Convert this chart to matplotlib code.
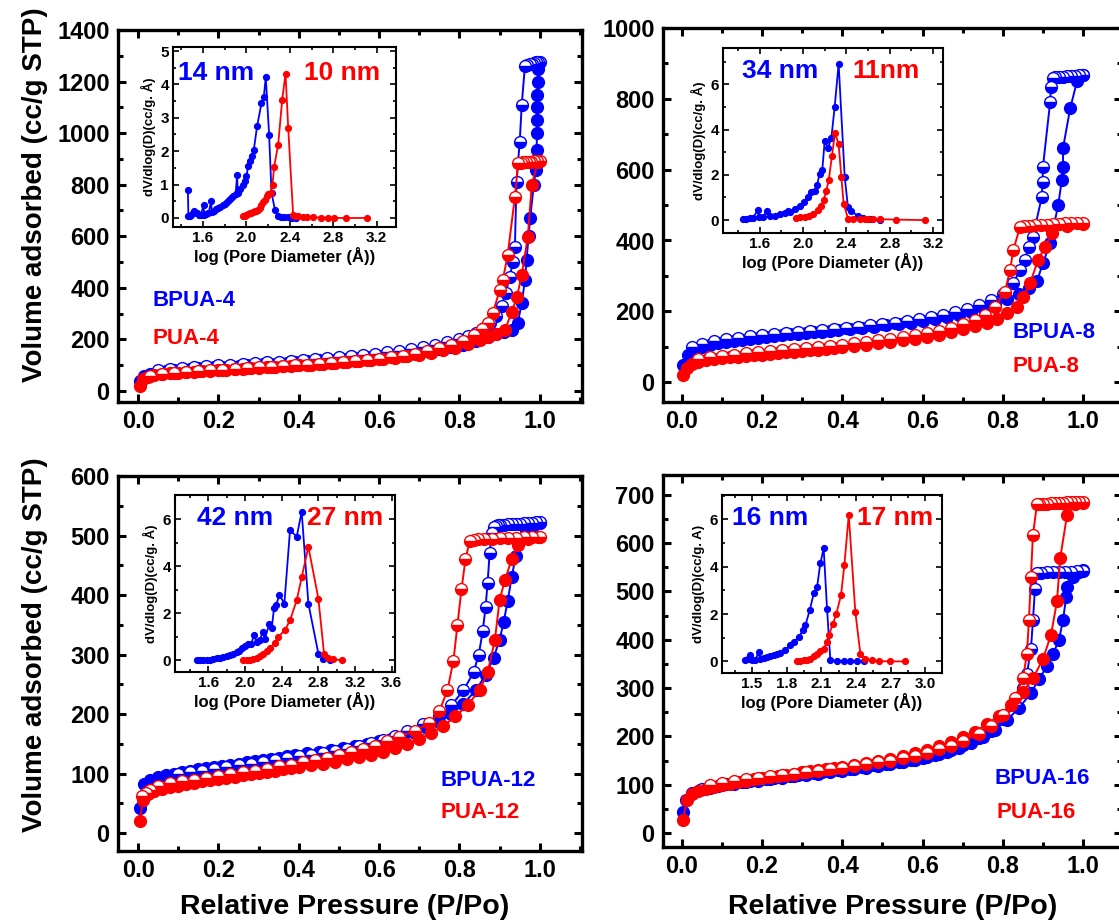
import matplotlib
matplotlib.use('Agg')
import matplotlib.pyplot as plt
from matplotlib.ticker import MultipleLocator, FormatStrFormatter

plt.rcParams['font.family'] = ['Liberation Sans', 'DejaVu Sans']
plt.rcParams['font.weight'] = 'bold'
plt.rcParams['axes.labelweight'] = 'bold'

BLUE = '#0000ff'
RED = '#ff0000'

# ---------------- Panel A: BPUA-4 / PUA-4 ----------------
A_blue_ads_P = [0.004, 0.015, 0.03, 0.05, 0.07, 0.09, 0.11, 0.13, 0.15, 0.17,
                0.19, 0.21, 0.23, 0.25, 0.27, 0.29, 0.31, 0.33, 0.35, 0.37,
                0.39, 0.42, 0.45, 0.48, 0.51, 0.54, 0.57, 0.60, 0.63, 0.66,
                0.69, 0.72, 0.75, 0.78, 0.81, 0.84, 0.87, 0.89, 0.91, 0.93,
                0.945, 0.955, 0.963, 0.967, 0.972, 0.976, 0.985, 0.99, 0.992, 0.993,
                0.993, 0.994, 0.994, 0.995, 0.996]
A_blue_ads_V = [40, 58, 66, 72, 76, 80, 83, 86, 88, 90,
                92, 94, 96, 98, 100, 102, 104, 106, 108, 110,
                112, 115, 118, 121, 124, 127, 131, 135, 139, 144,
                149, 155, 162, 170, 180, 192, 208, 220, 230, 238,
                262, 341, 431, 508, 600, 670, 800, 858, 935, 1001,
                1051, 1103, 1148, 1200, 1250]
A_blue_des_P = [1.0, 0.995, 0.99, 0.985, 0.98, 0.975, 0.969, 0.963, 0.955, 0.95,
                0.942, 0.938, 0.933, 0.925, 0.915, 0.905, 0.89, 0.875, 0.86, 0.84,
                0.82, 0.80, 0.77, 0.74, 0.71, 0.68, 0.65, 0.62, 0.59, 0.56,
                0.53, 0.50, 0.47, 0.44, 0.41, 0.38, 0.35, 0.32, 0.29, 0.26,
                0.23, 0.20, 0.17, 0.14, 0.11, 0.08, 0.05]
A_blue_des_V = [1275, 1276, 1274, 1272, 1270, 1268, 1266, 1262, 1110, 967,
                812, 560, 502, 440, 380, 330, 290, 262, 243, 225,
                212, 202, 190, 180, 171, 163, 156, 150, 145, 140,
                135, 131, 127, 123, 120, 117, 114, 111, 108, 105,
                102, 99, 96, 93, 89, 85, 80]
A_red_ads_P = [0.004, 0.012, 0.025, 0.04, 0.06, 0.08, 0.10, 0.12, 0.14, 0.16,
               0.18, 0.20, 0.22, 0.24, 0.26, 0.28, 0.30, 0.32, 0.34, 0.36,
               0.38, 0.40, 0.43, 0.46, 0.49, 0.52, 0.55, 0.58, 0.61, 0.64,
               0.67, 0.70, 0.73, 0.76, 0.79, 0.82, 0.85, 0.87, 0.89, 0.913,
               0.93, 0.943, 0.955, 0.97, 0.98, 0.995]
A_red_ads_V = [20, 45, 54, 60, 64, 68, 71, 73, 75, 77,
               79, 81, 83, 85, 86, 88, 90, 92, 93, 95,
               97, 99, 102, 105, 108, 111, 115, 119, 123, 128,
               134, 140, 148, 157, 168, 182, 198, 210, 220, 235,
               306, 365, 450, 597, 799, 888]
A_red_des_P = [1.0, 0.993, 0.986, 0.979, 0.972, 0.965, 0.958, 0.952, 0.946, 0.938,
               0.92, 0.908, 0.9, 0.883, 0.87, 0.855, 0.835, 0.81, 0.78, 0.75,
               0.72, 0.69, 0.66, 0.63, 0.60, 0.57, 0.54, 0.51, 0.48, 0.45,
               0.42, 0.39, 0.36, 0.33, 0.30, 0.27, 0.24, 0.21, 0.18, 0.15,
               0.12, 0.09, 0.06, 0.03]
A_red_des_V = [890, 891, 890, 889, 889, 888, 887, 886, 884, 753,
               528, 430, 390, 302, 265, 240, 215, 195, 178, 165,
               154, 145, 137, 131, 125, 120, 116, 112, 108, 105,
               102, 99, 96, 93, 91, 88, 86, 83, 80, 77,
               74, 70, 66, 58]

# ---------------- Panel B: BPUA-8 / PUA-8 ----------------
B_blue_ads_P = [0.004, 0.015, 0.03, 0.05, 0.07, 0.09, 0.11, 0.13, 0.15, 0.17,
                0.19, 0.21, 0.23, 0.25, 0.27, 0.29, 0.31, 0.33, 0.35, 0.37,
                0.39, 0.42, 0.45, 0.48, 0.51, 0.54, 0.57, 0.60, 0.63, 0.66,
                0.69, 0.72, 0.75, 0.78, 0.81, 0.84, 0.865, 0.885, 0.90, 0.918,
                0.938, 0.947, 0.95, 0.95, 0.968, 0.985, 1.0]
B_blue_ads_V = [48, 78, 90, 100, 106, 110, 114, 117, 120, 123,
                126, 128, 130, 133, 135, 137, 139, 141, 143, 145,
                147, 150, 153, 157, 160, 164, 168, 172, 177, 183,
                190, 198, 208, 220, 234, 250, 265, 285, 336, 393,
                500, 571, 608, 661, 774, 850, 867]
B_blue_des_P = [1.0, 0.99, 0.98, 0.97, 0.96, 0.95, 0.94, 0.93, 0.925, 0.92,
                0.918, 0.90, 0.899, 0.897, 0.875, 0.864, 0.855, 0.843, 0.826, 0.80,
                0.77, 0.74, 0.71, 0.68, 0.65, 0.62, 0.59, 0.56, 0.53, 0.50,
                0.47, 0.44, 0.41, 0.38, 0.35, 0.32, 0.29, 0.26, 0.23, 0.20,
                0.17, 0.14, 0.11, 0.08, 0.05, 0.025]
B_blue_des_V = [866, 866, 865, 865, 864, 863, 862, 861, 860, 834,
                792, 608, 566, 523, 410, 382, 345, 316, 280, 250,
                232, 218, 207, 198, 190, 184, 178, 173, 168, 164,
                160, 157, 154, 150, 147, 144, 141, 138, 135, 132,
                129, 125, 121, 115, 108, 98]
B_red_ads_P = [0.004, 0.012, 0.025, 0.04, 0.06, 0.08, 0.10, 0.12, 0.14, 0.16,
               0.18, 0.20, 0.22, 0.24, 0.26, 0.28, 0.30, 0.32, 0.34, 0.36,
               0.38, 0.40, 0.43, 0.46, 0.49, 0.52, 0.55, 0.58, 0.61, 0.64,
               0.67, 0.70, 0.73, 0.76, 0.785, 0.81, 0.835, 0.85, 0.868, 0.888,
               0.905, 0.922, 0.96, 1.0]
B_red_ads_V = [20, 40, 52, 58, 62, 65, 68, 70, 72, 74,
               76, 78, 80, 82, 84, 86, 88, 90, 92, 94,
               96, 98, 102, 106, 110, 114, 118, 123, 128, 134,
               141, 149, 158, 168, 178, 195, 213, 241, 280, 345,
               382, 421, 442, 447]
B_red_des_P = [1.0, 0.985, 0.97, 0.955, 0.94, 0.925, 0.91, 0.895, 0.88, 0.865,
               0.853, 0.843, 0.826, 0.818, 0.805, 0.78, 0.755, 0.73, 0.70, 0.67,
               0.64, 0.61, 0.58, 0.55, 0.52, 0.49, 0.46, 0.43, 0.40, 0.37,
               0.34, 0.31, 0.28, 0.25, 0.22, 0.19, 0.16, 0.13, 0.10, 0.07,
               0.04]
B_red_des_V = [450, 450, 449, 448, 447, 446, 445, 444, 443, 442,
               441, 439, 373, 316, 255, 213, 189, 175, 163, 153,
               145, 138, 132, 127, 122, 118, 114, 110, 106, 102,
               99, 96, 93, 90, 87, 84, 81, 78, 75, 71,
               66]

# ---------------- Panel C: BPUA-12 / PUA-12 ----------------
C_blue_ads_P = [0.004, 0.015, 0.03, 0.05, 0.07, 0.09, 0.11, 0.13, 0.15, 0.17,
                0.19, 0.21, 0.23, 0.25, 0.27, 0.29, 0.31, 0.33, 0.35, 0.37,
                0.39, 0.42, 0.45, 0.48, 0.51, 0.54, 0.57, 0.60, 0.63, 0.66,
                0.69, 0.72, 0.75, 0.78, 0.81, 0.84, 0.865, 0.885, 0.90, 0.91,
                0.92, 0.93, 0.94, 0.95, 0.965, 0.985, 1.0]
C_blue_ads_V = [42, 82, 90, 95, 98, 100, 103, 105, 107, 109,
                111, 113, 115, 117, 119, 121, 123, 125, 127, 129,
                131, 134, 137, 140, 143, 146, 150, 154, 158, 163,
                169, 177, 187, 200, 217, 240, 265, 295, 325, 355,
                390, 430, 465, 492, 510, 518, 521]
C_blue_des_P = [1.0, 0.99, 0.98, 0.97, 0.96, 0.95, 0.94, 0.93, 0.92, 0.91,
                0.90, 0.895, 0.89, 0.885, 0.88, 0.875, 0.87, 0.865, 0.858, 0.848,
                0.835, 0.81, 0.78, 0.75, 0.71, 0.67, 0.64, 0.61, 0.58, 0.55,
                0.52, 0.49, 0.46, 0.43, 0.40, 0.37, 0.34, 0.31, 0.28, 0.25,
                0.22, 0.19, 0.16, 0.13, 0.10]
C_blue_des_V = [522, 522, 521, 521, 521, 520, 520, 519, 519, 518,
                518, 517, 516, 514, 505, 470, 420, 380, 340, 300,
                270, 240, 215, 197, 183, 172, 164, 157, 151, 146,
                142, 138, 135, 132, 129, 126, 123, 120, 117, 114,
                111, 108, 105, 102, 99]
C_red_ads_P = [0.004, 0.012, 0.025, 0.04, 0.06, 0.08, 0.10, 0.12, 0.14, 0.16,
               0.18, 0.20, 0.22, 0.24, 0.26, 0.28, 0.30, 0.32, 0.34, 0.36,
               0.38, 0.40, 0.43, 0.46, 0.49, 0.52, 0.55, 0.58, 0.61, 0.64,
               0.67, 0.70, 0.73, 0.76, 0.79, 0.82, 0.85, 0.87, 0.888, 0.90,
               0.913, 0.93, 0.945, 0.97, 0.995]
C_red_ads_V = [20, 55, 65, 70, 74, 77, 80, 83, 85, 87,
               89, 91, 93, 95, 97, 99, 101, 103, 105, 107,
               109, 111, 114, 117, 120, 124, 128, 132, 137, 143,
               150, 158, 168, 180, 196, 215, 240, 270, 324, 392,
               425, 460, 484, 494, 497]
C_red_des_P = [1.0, 0.98, 0.96, 0.94, 0.92, 0.90, 0.88, 0.86, 0.845, 0.835,
               0.825, 0.815, 0.805, 0.795, 0.785, 0.77, 0.75, 0.725, 0.69, 0.65,
               0.62, 0.59, 0.56, 0.53, 0.50, 0.47, 0.44, 0.41, 0.38, 0.35,
               0.32, 0.29, 0.26, 0.23, 0.20, 0.17, 0.14, 0.11, 0.08, 0.05,
               0.03, 0.02, 0.01]
C_red_des_V = [497, 497, 497, 496, 496, 496, 495, 495, 494, 493,
               490, 460, 410, 350, 290, 240, 205, 185, 172, 162,
               154, 147, 141, 136, 131, 127, 123, 119, 115, 112,
               108, 105, 102, 99, 96, 93, 90, 87, 84, 79,
               73, 68, 62]

# ---------------- Panel D: BPUA-16 / PUA-16 ----------------
D_blue_ads_P = [0.003, 0.01, 0.025, 0.045, 0.07, 0.09, 0.11, 0.13, 0.15, 0.17,
                0.19, 0.21, 0.23, 0.25, 0.27, 0.29, 0.31, 0.33, 0.35, 0.37,
                0.39, 0.42, 0.45, 0.48, 0.51, 0.54, 0.57, 0.60, 0.63, 0.66,
                0.69, 0.72, 0.75, 0.78, 0.81, 0.84, 0.87, 0.89, 0.91, 0.925,
                0.94, 0.95, 0.958, 0.96, 0.975, 0.99, 1.0]
D_blue_ads_V = [43, 68, 82, 89, 94, 98, 101, 104, 106, 108,
                110, 112, 114, 116, 118, 120, 122, 124, 126, 128,
                130, 133, 136, 140, 143, 147, 151, 156, 162, 168,
                176, 186, 198, 214, 234, 258, 290, 318, 345, 370,
                400, 441, 489, 509, 530, 540, 545]
D_blue_des_P = [1.0, 0.985, 0.97, 0.955, 0.94, 0.925, 0.91, 0.895, 0.885, 0.88,
                0.875, 0.87, 0.86, 0.85, 0.83, 0.80, 0.77, 0.74, 0.70, 0.67,
                0.64, 0.61, 0.58, 0.55, 0.52, 0.49, 0.46, 0.43, 0.40, 0.37,
                0.34, 0.31, 0.28, 0.25, 0.22, 0.19, 0.16, 0.13, 0.10, 0.07,
                0.05]
D_blue_des_V = [542, 542, 541, 541, 540, 540, 540, 539, 538, 505,
                440, 380, 330, 300, 265, 235, 212, 196, 182, 172,
                164, 158, 152, 147, 143, 139, 135, 132, 129, 126,
                123, 120, 117, 114, 111, 108, 105, 102, 99, 95,
                92]
D_red_ads_P = [0.003, 0.012, 0.025, 0.04, 0.06, 0.08, 0.10, 0.12, 0.14, 0.16,
               0.18, 0.20, 0.22, 0.24, 0.26, 0.28, 0.30, 0.32, 0.34, 0.36,
               0.38, 0.40, 0.43, 0.46, 0.49, 0.52, 0.55, 0.58, 0.61, 0.64,
               0.67, 0.70, 0.73, 0.76, 0.79, 0.82, 0.85, 0.875, 0.90, 0.92,
               0.935, 0.943, 0.96, 0.98, 1.0]
D_red_ads_V = [27, 68, 80, 86, 91, 95, 99, 102, 105, 108,
               111, 113, 116, 118, 121, 123, 126, 128, 131, 133,
               135, 137, 141, 145, 149, 154, 159, 165, 172, 180,
               188, 198, 210, 225, 243, 265, 292, 320, 360, 410,
               480, 569, 658, 680, 683]
D_red_des_P = [1.0, 0.99, 0.98, 0.97, 0.96, 0.95, 0.94, 0.93, 0.92, 0.91,
               0.90, 0.89, 0.885, 0.875, 0.87, 0.865, 0.86, 0.85, 0.83, 0.80,
               0.77, 0.74, 0.70, 0.67, 0.64, 0.61, 0.58, 0.55, 0.52, 0.49,
               0.46, 0.43, 0.40, 0.37, 0.34, 0.31, 0.28, 0.25, 0.22, 0.19,
               0.16, 0.13, 0.10, 0.07]
D_red_des_V = [686, 686, 686, 685, 685, 684, 684, 683, 683, 682,
               682, 681, 680, 617, 530, 440, 370, 320, 280, 245,
               222, 205, 190, 181, 173, 166, 160, 155, 150, 146,
               142, 138, 135, 132, 129, 126, 123, 120, 117, 114,
               111, 108, 104, 100]

# ---------------- Insets: pore size distributions ----------------
A_psd_blue_x = [1.46, 1.465, 1.48, 1.50, 1.52, 1.54, 1.56, 1.58, 1.605, 1.61,
                1.63, 1.65, 1.675, 1.68, 1.70, 1.72, 1.74, 1.76, 1.78, 1.80,
                1.82, 1.84, 1.86, 1.88, 1.90, 1.914, 1.92, 1.94, 1.97, 1.99,
                2.0, 2.015, 2.03, 2.05, 2.068, 2.098, 2.138, 2.16, 2.178, 2.209,
                2.231, 2.262, 2.29, 2.32, 2.35, 2.38, 2.42, 2.46]
A_psd_blue_y = [0.85, 0.05, 0.06, 0.12, 0.20, 0.15, 0.10, 0.10, 0.38, 0.10,
                0.12, 0.14, 0.50, 0.18, 0.22, 0.26, 0.30, 0.34, 0.38, 0.43,
                0.48, 0.54, 0.60, 0.66, 0.72, 1.28, 0.75, 0.88, 1.00, 1.12,
                1.25, 1.55, 1.70, 1.85, 2.05, 2.75, 3.43, 3.63, 4.22, 2.48,
                0.75, 0.25, 0.05, 0.03, 0.02, 0.02, 0.01, 0.0]
A_psd_red_x = [1.969, 1.985, 2.0, 2.015, 2.03, 2.046, 2.062, 2.077, 2.092, 2.108,
               2.123, 2.138, 2.154, 2.169, 2.185, 2.2, 2.222, 2.24, 2.255, 2.292,
               2.329, 2.36, 2.385, 2.43, 2.45, 2.477, 2.517, 2.56, 2.615, 2.69,
               2.75, 2.81, 2.92, 3.11]
A_psd_red_y = [0.05, 0.07, 0.1, 0.12, 0.14, 0.16, 0.18, 0.2, 0.22, 0.25,
               0.3, 0.38, 0.47, 0.55, 0.65, 0.72, 0.75, 1.0, 1.54, 2.19,
               3.53, 4.32, 2.68, 0.1, 0.06, 0.05, 0.04, 0.03, 0.02, 0.01,
               0.01, 0.0, 0.0, 0.0]

B_psd_blue_x = [1.446, 1.477, 1.508, 1.538, 1.585, 1.594, 1.631, 1.668, 1.692, 1.738,
                1.785, 1.83, 1.862, 1.877, 1.923, 1.969, 2.006, 2.046, 2.077, 2.108,
                2.129, 2.154, 2.178, 2.2, 2.231, 2.262, 2.292, 2.329, 2.385, 2.415,
                2.446, 2.508, 2.554, 2.615, 2.708]
B_psd_blue_y = [0.06, 0.07, 0.09, 0.10, 0.45, 0.12, 0.13, 0.40, 0.16, 0.20,
                0.25, 0.31, 0.38, 0.36, 0.48, 0.63, 0.78, 1.00, 1.23, 1.30,
                1.53, 2.05, 2.20, 3.48, 3.18, 3.63, 4.98, 6.90, 1.90, 0.58,
                0.40, 0.18, 0.10, 0.03, 0.0]
B_psd_red_x = [1.938, 1.975, 2.015, 2.055, 2.092, 2.138, 2.169, 2.191, 2.215, 2.237,
               2.268, 2.295, 2.329, 2.354, 2.375, 2.415, 2.462, 2.523, 2.569, 2.6,
               2.646, 2.708, 2.862, 3.123]
B_psd_red_y = [0.10, 0.12, 0.15, 0.18, 0.25, 0.43, 0.63, 0.88, 1.30, 1.75,
               2.85, 3.85, 3.36, 1.90, 0.73, 0.07, 0.06, 0.06, 0.05, 0.05,
               0.04, 0.04, 0.02, 0.0]

C_psd_blue_x = [1.473, 1.509, 1.545, 1.582, 1.618, 1.655, 1.691, 1.727, 1.764, 1.8,
                1.836, 1.873, 1.909, 1.938, 1.967, 2.0, 2.036, 2.065, 2.098, 2.127,
                2.164, 2.193, 2.218, 2.265, 2.291, 2.316, 2.338, 2.375, 2.429, 2.491,
                2.564, 2.618, 2.691, 2.8, 2.855, 2.927]
C_psd_blue_y = [0.0, 0.0, 0.0, 0.01, 0.03, 0.05, 0.10, 0.11, 0.14, 0.18,
                0.23, 0.28, 0.33, 0.40, 0.50, 0.60, 0.71, 0.67, 1.06, 0.78,
                0.88, 1.20, 0.92, 1.56, 1.35, 2.20, 2.34, 2.77, 2.41, 5.53,
                5.25, 6.31, 2.41, 0.28, 0.07, 0.0]
C_psd_red_x = [1.982, 2.018, 2.055, 2.091, 2.127, 2.164, 2.2, 2.236, 2.273, 2.327,
               2.364, 2.436, 2.491, 2.564, 2.618, 2.691, 2.8, 2.862, 2.909, 2.964,
               3.055]
C_psd_red_y = [0.0, 0.01, 0.03, 0.06, 0.10, 0.17, 0.28, 0.38, 0.50, 0.75,
               1.00, 1.28, 1.70, 2.55, 3.52, 4.82, 2.62, 0.28, 0.10, 0.04,
               0.0]

D_psd_blue_x = [1.442, 1.462, 1.486, 1.5, 1.529, 1.558, 1.572, 1.601, 1.63, 1.659,
                1.688, 1.716, 1.745, 1.788, 1.826, 1.861, 1.904, 1.941, 1.962, 1.999,
                2.034, 2.063, 2.091, 2.12, 2.149, 2.178, 2.236, 2.293, 2.351, 2.409,
                2.466]
D_psd_blue_y = [0.04, 0.11, 0.25, 0.04, 0.07, 0.40, 0.11, 0.14, 0.18, 0.21,
                0.25, 0.31, 0.37, 0.47, 0.68, 0.82, 1.03, 1.31, 1.53, 2.16,
                2.87, 3.15, 4.14, 4.77, 2.23, 0.04, 0.03, 0.01, 0.01, 0.0,
                0.0]
D_psd_red_x = [1.889, 1.918, 1.947, 1.976, 2.005, 2.034, 2.063, 2.091, 2.12, 2.149,
               2.164, 2.201, 2.23, 2.27, 2.299, 2.337, 2.394, 2.438, 2.481, 2.539,
               2.597, 2.697, 2.827]
D_psd_red_y = [0.0, 0.01, 0.04, 0.07, 0.11, 0.21, 0.32, 0.44, 0.54, 0.82,
               1.10, 1.60, 2.02, 2.80, 4.07, 6.19, 2.09, 0.30, 0.11, 0.04,
               0.01, 0.0, 0.0]

W, H = 1119, 924
fig = plt.figure(figsize=(W / 100, H / 100), dpi=100)


def rect(l, t, r, b):
    return [l / W, 1 - b / H, (r - l) / W, (b - t) / H]


def main_axes(px, xlim, ylim, ymaj, ymin):
    ax = fig.add_axes(rect(*px))
    ax.set_xlim(xlim)
    ax.set_ylim(ylim)
    ax.xaxis.set_major_locator(MultipleLocator(0.2))
    ax.xaxis.set_minor_locator(MultipleLocator(0.1))
    ax.xaxis.set_major_formatter(FormatStrFormatter('%.1f'))
    ax.yaxis.set_major_locator(MultipleLocator(ymaj))
    ax.yaxis.set_minor_locator(MultipleLocator(ymin))
    for s in ax.spines.values():
        s.set_linewidth(2.4)
    ax.tick_params(which='both', direction='in', top=True, right=True, width=2.2)
    ax.tick_params(which='major', length=6, labelsize=17, pad=6)
    ax.tick_params(which='minor', length=3.5)
    return ax


def iso(ax, P, V, color, des):
    kw = dict(color=color, lw=1.4, marker='o', ms=8.5, mec=color, mew=1.0, zorder=3)
    if des:
        kw.update(fillstyle='bottom', mfc=color, mfcalt='white')
    ax.plot(P, V, **kw)


def inset(px, xlim, ylim, xmaj, xmin, ymaj, ymin, ylab):
    ax = fig.add_axes(rect(*px))
    ax.set_xlim(xlim)
    ax.set_ylim(ylim)
    ax.xaxis.set_major_locator(MultipleLocator(xmaj))
    ax.xaxis.set_minor_locator(MultipleLocator(xmin))
    ax.xaxis.set_major_formatter(FormatStrFormatter('%.1f'))
    ax.yaxis.set_major_locator(MultipleLocator(ymaj))
    ax.yaxis.set_minor_locator(MultipleLocator(ymin))
    for s in ax.spines.values():
        s.set_linewidth(1.5)
    ax.tick_params(which='both', direction='in', top=True, right=True, width=1.2)
    ax.tick_params(which='major', length=4, labelsize=11, pad=3)
    ax.tick_params(which='minor', length=2)
    ax.set_xlabel('log (Pore Diameter (Å))', fontsize=12, labelpad=1)
    ax.set_ylabel(ylab, fontsize=9.5, labelpad=3)
    return ax


def psd(ax, x, y, color):
    ax.plot(x, y, '-o', color=color, lw=1.3, ms=4.2, zorder=3)


def ftext(x, y, s, color, size, ha='left'):
    fig.text(x / W, 1 - y / H, s, color=color, fontsize=size, fontweight='bold',
             ha=ha, va='center')


# Panel A
axA = main_axes((118, 30, 582, 402), (-0.05, 1.105), (-43, 1400), 200, 100)
iso(axA, A_blue_ads_P, A_blue_ads_V, BLUE, False)
iso(axA, A_blue_des_P, A_blue_des_V, BLUE, True)
iso(axA, A_red_ads_P, A_red_ads_V, RED, False)
iso(axA, A_red_des_P, A_red_des_V, RED, True)

# Panel B
axB = main_axes((663, 28, 1122, 402), (-0.047, 1.097), (-56, 1000), 200, 100)
iso(axB, B_blue_ads_P, B_blue_ads_V, BLUE, False)
iso(axB, B_blue_des_P, B_blue_des_V, BLUE, True)
iso(axB, B_red_ads_P, B_red_ads_V, RED, False)
iso(axB, B_red_des_P, B_red_des_V, RED, True)

# Panel C
axC = main_axes((118, 476, 582, 851), (-0.05, 1.105), (-30, 600), 100, 50)
iso(axC, C_blue_ads_P, C_blue_ads_V, BLUE, False)
iso(axC, C_blue_des_P, C_blue_des_V, BLUE, True)
iso(axC, C_red_ads_P, C_red_ads_V, RED, False)
iso(axC, C_red_des_P, C_red_des_V, RED, True)

# Panel D
axD = main_axes((663, 475, 1122, 847), (-0.047, 1.097), (-29, 741), 100, 50)
iso(axD, D_blue_ads_P, D_blue_ads_V, BLUE, False)
iso(axD, D_blue_des_P, D_blue_des_V, BLUE, True)
iso(axD, D_red_ads_P, D_red_ads_V, RED, False)
iso(axD, D_red_des_P, D_red_des_V, RED, True)

# Insets
iA = inset((173, 47, 396, 227), (1.323, 3.378), (-0.27, 5.12), 0.4, 0.2, 1, 0.5,
           'dV/dlog(D)(cc/g. Å)')
psd(iA, A_psd_blue_x, A_psd_blue_y, BLUE)
psd(iA, A_psd_red_x, A_psd_red_y, RED)

iB = inset((723, 48, 943, 233), (1.262, 3.292), (-0.57, 7.6), 0.4, 0.2, 2, 1,
           'dV/dlog(D)(cc/g. Å)')
psd(iB, B_psd_blue_x, B_psd_blue_y, BLUE)
psd(iB, B_psd_red_x, B_psd_red_y, RED)

iC = inset((175, 495, 395, 672), (1.236, 3.636), (-0.5, 7.02), 0.4, 0.2, 2, 1,
           'dV/dlog(D)(cc/g. Å)')
psd(iC, C_psd_blue_x, C_psd_blue_y, BLUE)
psd(iC, C_psd_red_x, C_psd_red_y, RED)

iD = inset((722, 495, 942, 673), (1.24, 3.144), (-0.49, 7.03), 0.3, 0.15, 2, 1,
           'dV/dlog(D)(cc/g. A)')
psd(iD, D_psd_blue_x, D_psd_blue_y, BLUE)
psd(iD, D_psd_red_x, D_psd_red_y, RED)

# Inset peak labels
ftext(178, 73, '14 nm', BLUE, 19)
ftext(304, 73, '10 nm', RED, 19)
ftext(742, 71, '34 nm', BLUE, 19)
ftext(852, 71, '11nm', RED, 19)
ftext(197, 518, '42 nm', BLUE, 19)
ftext(307, 518, '27 nm', RED, 19)
ftext(732, 518, '16 nm', BLUE, 19)
ftext(857, 518, '17 nm', RED, 19)

# Sample labels
ftext(152, 300, 'BPUA-4', BLUE, 16)
ftext(152, 338, 'PUA-4', RED, 16)
ftext(1013, 333, 'BPUA-8', BLUE, 16)
ftext(1013, 367, 'PUA-8', RED, 16)
ftext(440, 780, 'BPUA-12', BLUE, 16)
ftext(440, 813, 'PUA-12', RED, 16)
ftext(995, 779, 'BPUA-16', BLUE, 16)
ftext(997, 813, 'PUA-16', RED, 16)

# Axis titles
fig.text(35 / W, 1 - 195 / H, 'Volume adsorbed (cc/g STP)', rotation=90, fontsize=20,
         fontweight='bold', ha='center', va='center')
fig.text(35 / W, 1 - 645 / H, 'Volume adsorbed (cc/g STP)', rotation=90, fontsize=20,
         fontweight='bold', ha='center', va='center')
fig.text(345 / W, 1 - 907 / H, 'Relative Pressure (P/Po)', fontsize=20.5,
         fontweight='bold', ha='center', va='center')
fig.text(893 / W, 1 - 907 / H, 'Relative Pressure (P/Po)', fontsize=20.5,
         fontweight='bold', ha='center', va='center')

fig.savefig('out.png', dpi=100)
